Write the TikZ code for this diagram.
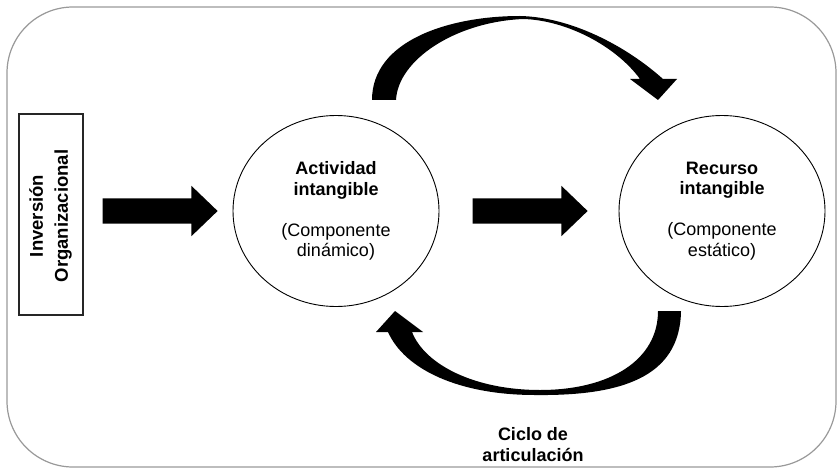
\documentclass[tikz,border=0pt]{standalone}
\usepackage{fontspec}
\setmainfont{Liberation Sans}
\usetikzlibrary{shapes.geometric,shapes.arrows}
\begin{document}
\begin{tikzpicture}[x=1pt,y=-1pt,
  frame/.style={draw=black!40, line width=1.2pt, rounded corners=66pt},
  circ/.style={ellipse, draw=black, line width=0.9pt, minimum width=206pt, minimum height=191pt, inner sep=0pt, align=center, font=\fontsize{18}{20.5}\selectfont},
  blockarrow/.style={single arrow, fill=black, draw=none, minimum height=115pt, minimum width=50pt, inner xsep=0pt, inner ysep=12.5pt, single arrow head extend=12.5pt, single arrow tip angle=87.7},
  invbox/.style={draw=black!85, line width=1.2pt, minimum width=64pt, minimum height=201pt, inner sep=0pt},
  lbl/.style={align=center, font=\fontsize{18}{21}\selectfont\bfseries}
]
\useasboundingbox (0,0) rectangle (837,468);
\draw[frame] (7,7) rectangle (836,467);

\node[invbox] (inv) at (51,214.5) {};
\node[rotate=90, align=center, font=\fontsize{18.5}{25}\selectfont\bfseries] (invt) at (50.5,216) {Inversión\\Organizacional};

\node[circ] (act) at (336,211) {\textbf{Actividad}\\\textbf{intangible}\\[20.5pt](Componente\\dinámico)};
\node[circ] (rec) at (722,211) {\textbf{Recurso}\\\textbf{intangible}\\[20.5pt](Componente\\estático)};

\node[blockarrow] (a1) at (153.5,211) {};
\node[blockarrow] (a2) at (523.5,211) {};

% top curved arrow
\fill[black] (372,100) .. controls (372,40) and (450,16) .. (520,16)
  .. controls (570,17) and (625,45) .. (663,79)
  -- (677,79) -- (658,100) -- (630,79) -- (640,79)
  .. controls (615,45) and (565,20) .. (523,19)
  .. controls (455,22) and (398,60) .. (396,100) -- cycle;

% bottom curved arrow
\fill[black] (681,311) .. controls (680,378) and (620,396) .. (535,395)
  .. controls (460,395) and (405,370) .. (388,332)
  -- (376,332) -- (395,311) -- (423,332) -- (412,332)
  .. controls (425,365) and (475,390) .. (540,390)
  .. controls (610,390) and (658,360) .. (658,311) -- cycle;

\node[lbl] (ciclo) at (533,444.5) {Ciclo de\\articulación};
\end{tikzpicture}
\end{document}
